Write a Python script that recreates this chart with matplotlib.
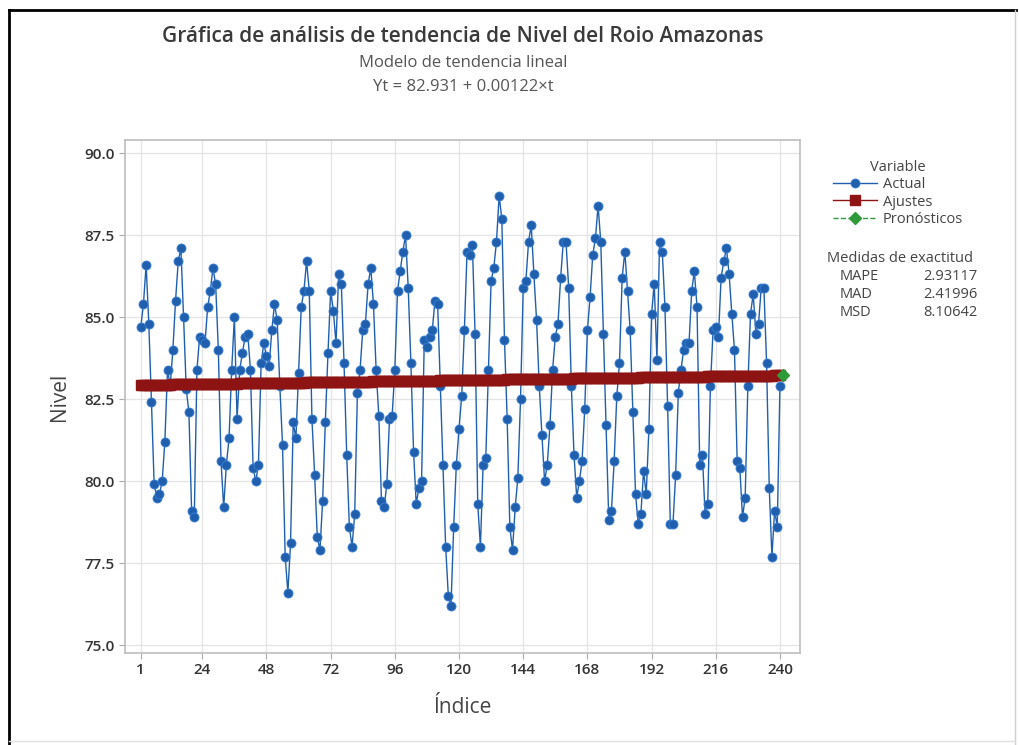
import matplotlib
matplotlib.use("Agg")
import matplotlib.pyplot as plt
from matplotlib.lines import Line2D

plt.rcParams["font.family"] = ["Open Sans", "DejaVu Sans"]

# Nivel del rio
nivel = [
    84.7, 85.4, 86.6, 84.8, 82.4, 79.9, 79.5, 79.6, 80.0, 81.2,
    83.4, 82.9, 84.0, 85.5, 86.7, 87.1, 85.0, 82.8, 82.1, 79.1,
    78.9, 83.4, 84.4, 84.3, 84.2, 85.3, 85.8, 86.5, 86.0, 84.0,
    80.6, 79.2, 80.5, 81.3, 83.4, 85.0, 81.9, 83.4, 83.9, 84.4,
    84.5, 83.4, 80.4, 80.0, 80.5, 83.6, 84.2, 83.8, 83.5, 84.6,
    85.4, 84.9, 82.9, 81.1, 77.7, 76.6, 78.1, 81.8, 81.3, 83.3,
    85.3, 85.8, 86.7, 85.8, 81.9, 80.2, 78.3, 77.9, 79.4, 81.8,
    83.9, 85.8, 85.2, 84.2, 86.3, 86.0, 83.6, 80.8, 78.6, 78.0,
    79.0, 82.7, 83.4, 84.6, 84.8, 86.0, 86.5, 85.4, 83.4, 82.0,
    79.4, 79.2, 79.9, 81.9, 82.0, 83.4, 85.8, 86.4, 87.0, 87.5,
    85.9, 83.6, 80.9, 79.3, 79.8, 80.0, 84.3, 84.1, 84.4, 84.6,
    85.5, 85.4, 82.9, 80.5, 78.0, 76.5, 76.2, 78.6, 80.5, 81.6,
    82.6, 84.6, 87.0, 86.9, 87.2, 84.5, 79.3, 78.0, 80.5, 80.7,
    83.4, 86.1, 86.5, 87.3, 88.7, 88.0, 84.3, 81.9, 78.6, 77.9,
    79.2, 80.1, 82.5, 85.9, 86.1, 87.3, 87.8, 86.3, 84.9, 82.9,
    81.4, 80.0, 80.5, 81.7, 83.4, 84.4, 84.8, 86.2, 87.3, 87.3,
    85.9, 82.9, 80.8, 79.5, 80.0, 80.6, 82.2, 84.6, 85.6, 86.9,
    87.4, 88.4, 87.3, 84.5, 81.7, 78.8, 79.1, 80.6, 82.6, 83.6,
    86.2, 87.0, 85.8, 84.6, 82.1, 79.6, 78.7, 79.0, 80.3, 79.6,
    81.6, 85.1, 86.0, 83.7, 87.3, 87.0, 85.3, 82.3, 78.7, 78.7,
    80.2, 82.7, 83.4, 84.0, 84.2, 84.2, 85.8, 86.4, 85.3, 80.5,
    80.8, 79.0, 79.3, 82.9, 84.6, 84.7, 84.4, 86.2, 86.7, 87.1,
    86.3, 85.1, 84.0, 80.6, 80.4, 78.9, 79.5, 82.9, 85.1, 85.7,
    84.5, 84.8, 85.9, 85.9, 83.6, 79.8, 77.7, 79.1, 78.6, 82.9,
]
indice = list(range(1, len(nivel) + 1))

# modelo de tendencia lineal del grafico: Yt = 82.931 + 0.00122*t
b0 = 82.931
b1 = 0.00122
ajustes = [b0 + b1 * t for t in indice]
t_pron = [241]
pronosticos = [b0 + b1 * t for t in t_pron]

medidas = ["MAPE", "MAD", "MSD"]
valores = ["2.93117", "2.41996", "8.10642"]

xticks = [1, 24, 48, 72, 96, 120, 144, 168, 192, 216, 240]
yticks = [75.0, 77.5, 80.0, 82.5, 85.0, 87.5, 90.0]

azul = "#1f5fae"
rojo = "#8e1414"
verde = "#2e9a3a"
gris = "#333333"

fig = plt.figure(figsize=(10.19, 7.45), dpi=100)
ax = fig.add_axes([125 / 1019, 1 - 653 / 745, 675 / 1019, 513 / 745])

ax.plot(indice, nivel, color=azul, lw=1.0, marker="o", ms=6.5,
        mfc=azul, mec="#3a7fd2", mew=0.6, label="Actual", zorder=3)
ax.plot(indice, ajustes, color=rojo, lw=1.0, marker="s", ms=7.5,
        mfc=rojo, mec=rojo, label="Ajustes", zorder=4)
ax.plot(t_pron, pronosticos, color=verde, lw=1.0, ls="--", marker="D",
        ms=6, mfc=verde, mec=verde, label="Pronósticos", zorder=5)

ax.set_xlim(-4.9, 247.5)
ax.set_ylim(74.76, 90.4)
ax.set_xticks(xticks)
ax.set_yticks(yticks)
ax.set_yticklabels([f"{v:.1f}" for v in yticks])
ax.tick_params(labelsize=11, colors=gris, length=4, width=0.8)
for lab in ax.get_xticklabels() + ax.get_yticklabels():
    lab.set_fontweight("semibold")
ax.tick_params(color="#aaaaaa")
ax.grid(True, color="#e4e4e4", lw=0.9)
ax.set_axisbelow(True)
for s in ax.spines.values():
    s.set_color("#bdbdbd")
    s.set_linewidth(1.2)

ax.set_xlabel("Índice", fontsize=15, color="#444444", labelpad=14)
ax.set_ylabel("Nivel", fontsize=15, color="#444444", labelpad=10)

fig.text(463 / 1019, 1 - 37 / 745, "Gráfica de análisis de tendencia de Nivel del Roio Amazonas",
         ha="center", va="center", fontsize=15, color="#3a3a3a", fontweight="semibold")
fig.text(463 / 1019, 1 - 63 / 745, "Modelo de tendencia lineal",
         ha="center", va="center", fontsize=12, color="#555555")
fig.text(463 / 1019, 1 - 87 / 745, "Yt = 82.931 + 0.00122×t",
         ha="center", va="center", fontsize=12, color="#555555")

leg = ax.legend(loc="upper left", bbox_to_anchor=(823 / 1019, 1 - 150 / 745),
                bbox_transform=fig.transFigure, frameon=False, title="Variable",
                fontsize=10.5, title_fontsize=10.5, handlelength=3.0,
                labelspacing=0.15, handletextpad=0.4, borderpad=0.2)
for txt in leg.get_texts():
    txt.set_color("#444444")
leg.get_title().set_color("#444444")

fig.text(900 / 1019, 1 - 258 / 745, "Medidas de exactitud", ha="center",
         va="center", fontsize=10.5, color="#444444")
for i, (m, v) in enumerate(zip(medidas, valores)):
    y = 1 - (276 + 18 * i) / 745
    fig.text(840 / 1019, y, m, ha="left", va="center", fontsize=10.5, color="#444444")
    fig.text(977 / 1019, y, v, ha="right", va="center", fontsize=10.5, color="#444444")

# marco de la captura
fig.add_artist(Line2D([0.009, 0.009], [0.0, 0.987], color="black", lw=2.0))
fig.add_artist(Line2D([0.009, 0.997], [0.987, 0.987], color="black", lw=2.0))
fig.add_artist(Line2D([0.996, 0.996], [0.0, 0.987], color="#d0d0d0", lw=1.0))
fig.add_artist(Line2D([0.009, 0.996], [0.006, 0.006], color="#e0e0e0", lw=1.0))

fig.savefig("out.png", dpi=100)
